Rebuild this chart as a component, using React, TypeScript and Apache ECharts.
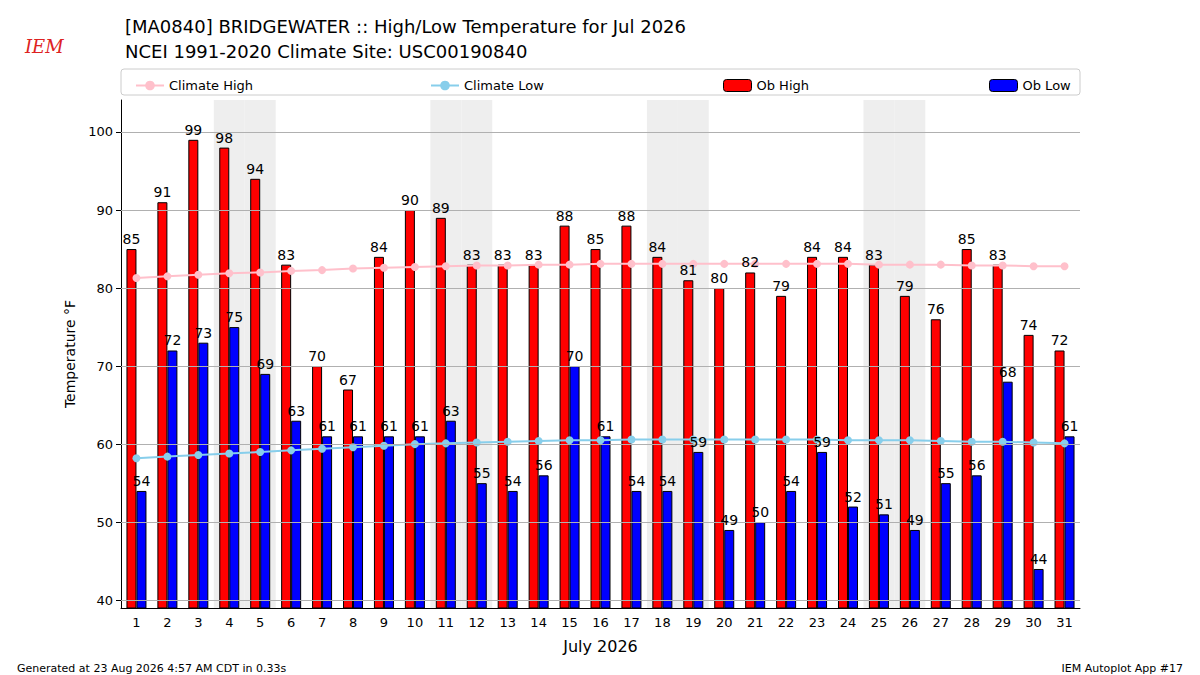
import React, { useEffect, useRef } from 'react'
import * as echarts from 'echarts'

const days = Array.from({ length: 31 }, (_, i) => String(i + 1))
const obHigh = [85, 91, 99, 98, 94, 83, 70, 67, 84, 90, 89, 83, 83, 83, 88, 85, 88, 84, 81, 80, 82, 79, 84, 84, 83, 79, 76, 85, 83, 74, 72]
const obLow = [54, 72, 73, 75, 69, 63, 61, 61, 61, 61, 63, 55, 54, 56, 70, 61, 54, 54, 59, 49, 50, 54, 59, 52, 51, 49, 55, 56, 68, 44, 61]
const climateHigh = [81.3, 81.5, 81.7, 81.9, 82.0, 82.2, 82.3, 82.5, 82.6, 82.7, 82.8, 82.9, 82.9, 83.0, 83.0, 83.1, 83.1, 83.1, 83.1, 83.1, 83.1, 83.1, 83.1, 83.1, 83.0, 83.0, 83.0, 82.9, 82.9, 82.8, 82.8]
const climateLow = [58.2, 58.4, 58.6, 58.8, 59.0, 59.2, 59.4, 59.6, 59.8, 60.0, 60.1, 60.2, 60.3, 60.4, 60.5, 60.5, 60.6, 60.6, 60.6, 60.6, 60.6, 60.6, 60.6, 60.5, 60.5, 60.5, 60.4, 60.3, 60.3, 60.2, 60.1]
const weekendDays = [4, 5, 11, 12, 18, 19, 25, 26]
const yTicks = [40, 50, 60, 70, 80, 90, 100]
const yMin = 39
const yMax = 104.1

const font = 'DejaVu Sans'

const App: React.FC = () => {
  const chartRef = useRef<HTMLDivElement>(null)

  useEffect(() => {
    if (!chartRef.current) return
    const chart = echarts.init(chartRef.current, undefined, { renderer: 'svg' })

    const legendBase = { top: 74, itemWidth: 28, itemHeight: 12, textStyle: { fontFamily: font, fontSize: 13, color: '#000' } }
    const labelSeries = (data: number[], dx: number) => ({
      type: 'scatter',
      data,
      symbolSize: 0,
      silent: true,
      z: 5,
      itemStyle: { opacity: 1 },
      label: { show: true, position: 'top', offset: [dx, 0], distance: 3, color: '#000', opacity: 1, fontFamily: font, fontSize: 14 }
    })

    chart.setOption({
      animation: false,
      textStyle: { fontFamily: font },
      title: [
        { text: '[MA0840] BRIDGEWATER :: High/Low Temperature for Jul 2026', left: 120, top: 12, textStyle: { fontFamily: font, fontSize: 18, fontWeight: 'normal', color: '#000' } },
        { text: 'NCEI 1991-2020 Climate Site: USC00190840', left: 120, top: 37, textStyle: { fontFamily: font, fontSize: 18, fontWeight: 'normal', color: '#000' } },
        { text: 'IEM', left: 20, top: 32, textStyle: { fontFamily: 'DejaVu Serif', fontSize: 18, fontStyle: 'italic', fontWeight: 'normal', color: '#d22' } },
        { text: 'Generated at 23 Aug 2026 4:57 AM CDT in 0.33s', left: 12, top: 658, textStyle: { fontFamily: font, fontSize: 11, fontWeight: 'normal', color: '#000' } },
        { text: 'IEM Autoplot App #17', right: 12, top: 658, textStyle: { fontFamily: font, fontSize: 11, fontWeight: 'normal', color: '#000' } }
      ],
      graphic: [
        { type: 'rect', shape: { x: 121, y: 69, width: 959, height: 26, r: 3 }, style: { fill: '#fff', stroke: '#ccc', lineWidth: 1 }, z: -1 }
      ],
      legend: [
        { ...legendBase, left: 130, data: ['Climate High'] },
        { ...legendBase, left: 425, data: ['Climate Low'] },
        { ...legendBase, left: 718, data: [{ name: 'Ob High', itemStyle: { borderWidth: 1, borderColor: '#000' } }] },
        { ...legendBase, left: 984, data: [{ name: 'Ob Low', itemStyle: { borderWidth: 1, borderColor: '#000' } }] }
      ],
      grid: { left: 121, right: 120, top: 100, bottom: 67 },
      xAxis: [
        {
          type: 'category',
          data: days,
          name: 'July 2026',
          nameLocation: 'middle',
          nameGap: 30,
          nameTextStyle: { fontFamily: font, fontSize: 16, color: '#000' },
          axisLine: { lineStyle: { color: '#000' } },
          axisTick: { alignWithLabel: true, lineStyle: { color: '#000' } },
          axisLabel: { color: '#000', fontSize: 13, fontFamily: font }
        },
        { type: 'category', data: days, show: false, gridIndex: 0 }
      ],
      yAxis: {
        type: 'value',
        min: yMin,
        max: yMax,
        name: 'Temperature °F',
        nameLocation: 'middle',
        nameGap: 42,
        nameTextStyle: { fontFamily: font, fontSize: 14, color: '#000' },
        axisLine: { show: true, lineStyle: { color: '#000' } },
        axisTick: { show: true, customValues: yTicks, lineStyle: { color: '#000' } },
        axisLabel: { color: '#000', fontSize: 13, fontFamily: font, customValues: yTicks },
        splitLine: { show: false }
      },
      series: [
        {
          name: 'weekend',
          type: 'bar',
          xAxisIndex: 1,
          barWidth: '100%',
          silent: true,
          z: 0,
          itemStyle: { color: '#eeeeee' },
          data: days.map((d) => (weekendDays.includes(Number(d)) ? yMax : '-')),
          markLine: {
            silent: true,
            symbol: 'none',
            label: { show: false },
            lineStyle: { color: '#b0b0b0', width: 1, type: 'solid' },
            data: yTicks.map((v) => ({ yAxis: v }))
          }
        },
        {
          name: 'Ob High',
          type: 'bar',
          data: obHigh,
          barWidth: 10,
          barGap: '0%',
          z: 2,
          itemStyle: { color: '#ff0000', borderColor: '#000', borderWidth: 1 }
        },
        {
          name: 'Ob Low',
          type: 'bar',
          data: obLow,
          barWidth: 10,
          z: 2,
          itemStyle: { color: '#0000ff', borderColor: '#000', borderWidth: 1 }
        },
        {
          name: 'Climate High',
          type: 'line',
          data: climateHigh,
          symbol: 'circle',
          symbolSize: 8,
          z: 3,
          lineStyle: { color: '#ffc0cb', width: 2 },
          itemStyle: { color: '#ffc0cb' }
        },
        {
          name: 'Climate Low',
          type: 'line',
          data: climateLow,
          symbol: 'circle',
          symbolSize: 8,
          z: 3,
          lineStyle: { color: '#87ceeb', width: 2 },
          itemStyle: { color: '#87ceeb' }
        },
        labelSeries(obHigh, -5),
        labelSeries(obLow, 5)
      ]
    })

    return () => {
      chart.dispose()
    }
  }, [])

  return <div ref={chartRef} style={{ position: 'absolute', left: 0, top: 0, width: 1200, height: 675, background: '#fff' }} />
}

export default App
